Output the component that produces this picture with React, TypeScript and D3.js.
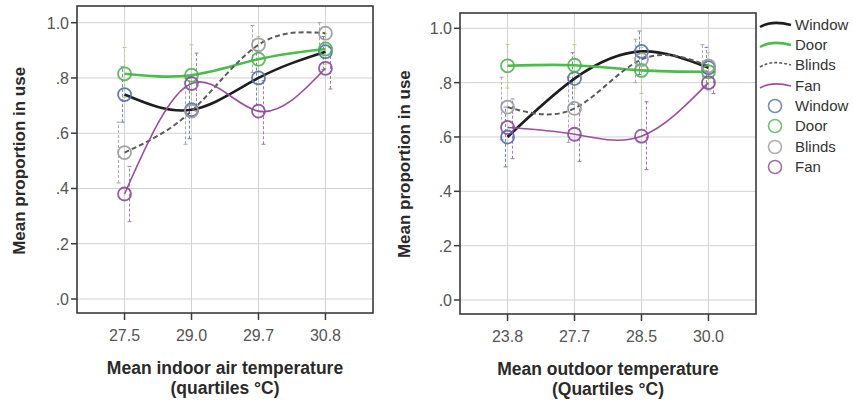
import * as d3 from "d3";

// quartile labels
const indoorTicks = ["27.5", "29.0", "29.7", "30.8"];
const outdoorTicks = ["23.8", "27.7", "28.5", "30.0"];
const yTicks = [0, 0.2, 0.4, 0.6, 0.8, 1.0];

// indoor panel means
const inWindow = [0.74, 0.685, 0.8, 0.895];
const inDoor = [0.815, 0.81, 0.868, 0.905];
const inBlinds = [0.53, 0.68, 0.92, 0.962];
const inFan = [0.38, 0.78, 0.68, 0.835];
// indoor error bars
const inWindowLo = [0.64, 0.58, 0.7, 0.83];
const inWindowHi = [0.84, 0.8, 0.9, 0.95];
const inDoorLo = [0.73, 0.7, 0.78, 0.85];
const inDoorHi = [0.91, 0.92, 0.95, 0.96];
const inBlindsLo = [0.42, 0.56, 0.82, 0.9];
const inBlindsHi = [0.64, 0.8, 0.99, 1.0];
const inFanLo = [0.28, 0.68, 0.56, 0.76];
const inFanHi = [0.48, 0.89, 0.79, 0.91];

// outdoor panel means
const outWindow = [0.6, 0.815, 0.915, 0.855];
const outDoor = [0.862, 0.864, 0.845, 0.84];
const outBlinds = [0.71, 0.705, 0.885, 0.862];
const outFan = [0.635, 0.61, 0.603, 0.8];
// outdoor error bars
const outWindowLo = [0.49, 0.72, 0.83, 0.78];
const outWindowHi = [0.71, 0.91, 0.99, 0.93];
const outDoorLo = [0.78, 0.78, 0.76, 0.77];
const outDoorHi = [0.94, 0.94, 0.93, 0.91];
const outBlindsLo = [0.59, 0.58, 0.8, 0.78];
const outBlindsHi = [0.82, 0.82, 0.96, 0.94];
const outFanLo = [0.52, 0.51, 0.48, 0.76];
const outFanHi = [0.74, 0.72, 0.73, 0.86];

const seriesNames = ["Window", "Door", "Blinds", "Fan"];

const styles: any = {
  Window: { line: "#1e1e1e", lw: 2.6, dash: null, dot: "#5470a6", err: "#6f86b4", off: -2 },
  Door: { line: "#4cbc4c", lw: 2.6, dash: null, dot: "#4fb34f", err: "#b9c98a", off: 0 },
  Blinds: { line: "#5a5a5a", lw: 2, dash: "5,3", dot: "#9a9a9a", err: "#a8a8a8", off: -6 },
  Fan: { line: "#9a4f9e", lw: 1.6, dash: null, dot: "#8d4a99", err: "#9d7aa6", off: 5 },
};

const font = "'Liberation Sans', Arial, sans-serif";

function Panel({ left, right, top, bottom, y1, y0, ticks, means, los, his, title1, title2, yTitleX }: any) {
  const x = d3.scalePoint<string>().domain(ticks).range([left, right]).padding(0.71);
  const y = d3.scaleLinear().domain([0, 1]).range([y0, y1]);
  const line = d3
    .line<number>()
    .x((_, i) => x(ticks[i]) as number)
    .y((d) => y(d))
    .curve(d3.curveNatural);
  const cx = (left + right) / 2;
  const cy = (y(0) + y(1)) / 2;
  return (
    <g>
      {yTicks.map((t) => (
        <line key={"gy" + t} x1={left} x2={right} y1={y(t)} y2={y(t)} stroke="#d2d2d2" strokeWidth={1} />
      ))}
      {ticks.map((t: string) => (
        <line key={"gx" + t} x1={x(t)} x2={x(t)} y1={top} y2={bottom} stroke="#d2d2d2" strokeWidth={1} />
      ))}
      <rect x={left} y={top} width={right - left} height={bottom - top} fill="none" stroke="#3a3a3a" strokeWidth={1.6} />
      {yTicks.map((t) => (
        <g key={"yt" + t}>
          <line x1={left - 6} x2={left} y1={y(t)} y2={y(t)} stroke="#3a3a3a" strokeWidth={1.5} />
          <text x={left - 8} y={y(t) + 6} textAnchor="end" fontSize={16} fill="#555" fontFamily={font}>
            {t === 0 ? ".0" : t === 1 ? "1.0" : d3.format(".1f")(t).replace(/^0/, "")}
          </text>
        </g>
      ))}
      {ticks.map((t: string) => (
        <g key={"xt" + t}>
          <line x1={x(t)} x2={x(t)} y1={bottom} y2={bottom + 7} stroke="#3a3a3a" strokeWidth={1.5} />
          <text x={x(t)} y={bottom + 28} textAnchor="middle" fontSize={16} fill="#555" fontFamily={font}>
            {t}
          </text>
        </g>
      ))}
      {/* error bars */}
      {seriesNames.map((s, si) =>
        means[si].map((_: number, i: number) => {
          const px = (x(ticks[i]) as number) + styles[s].off;
          return (
            <g key={"e" + s + i} stroke={styles[s].err} strokeWidth={1}>
              <line x1={px} x2={px} y1={y(los[si][i])} y2={y(his[si][i])} strokeDasharray="3,2" />
              <line x1={px - 2} x2={px + 2} y1={y(los[si][i])} y2={y(los[si][i])} />
              <line x1={px - 2} x2={px + 2} y1={y(his[si][i])} y2={y(his[si][i])} />
            </g>
          );
        })
      )}
      {seriesNames.map((s, si) => (
        <path
          key={"l" + s}
          d={line(means[si]) as string}
          fill="none"
          stroke={styles[s].line}
          strokeWidth={styles[s].lw}
          strokeDasharray={styles[s].dash || undefined}
        />
      ))}
      {seriesNames.map((s, si) =>
        means[si].map((v: number, i: number) => (
          <circle key={"c" + s + i} cx={x(ticks[i])} cy={y(v)} r={6.5} fill="none" stroke={styles[s].dot} strokeWidth={1.8} opacity={0.9} />
        ))
      )}
      <text x={cx} y={bottom + 61} textAnchor="middle" fontSize={17.5} fontWeight="bold" fill="#2a2a2a" fontFamily={font}>
        {title1}
      </text>
      <text x={cx} y={bottom + 81} textAnchor="middle" fontSize={17.5} fontWeight="bold" fill="#2a2a2a" fontFamily={font}>
        {title2}
      </text>
      <text
        transform={`translate(${yTitleX},${cy}) rotate(-90)`}
        textAnchor="middle"
        fontSize={17}
        fontWeight="bold"
        fill="#2a2a2a"
        fontFamily={font}
      >
        Mean proportion in use
      </text>
    </g>
  );
}

function Legend() {
  const lx = 760;
  const rows = [25, 45, 65, 86];
  const crow = [106, 126, 147, 167];
  return (
    <g fontFamily={font} fontSize={15} fill="#333">
      {seriesNames.map((s, i) => (
        <g key={"ll" + s}>
          <path
            d={`M${lx},${rows[i] + 2} C${lx + 10},${rows[i] - 4} ${lx + 20},${rows[i] - 3} ${lx + 31},${rows[i]}`}
            fill="none"
            stroke={styles[s].line}
            strokeWidth={s === "Fan" ? 1.6 : s === "Blinds" ? 1.6 : 2.6}
            strokeDasharray={s === "Blinds" ? "3,2" : undefined}
          />
          <text x={795} y={rows[i] + 5}>{s}</text>
        </g>
      ))}
      {seriesNames.map((s, i) => (
        <g key={"lc" + s}>
          <circle cx={775} cy={crow[i]} r={6.5} fill="none" stroke={styles[s].dot} strokeWidth={1.6} opacity={0.8} />
          <text x={795} y={crow[i] + 5}>{s}</text>
        </g>
      ))}
    </g>
  );
}

export default function App() {
  return (
    <svg width={853} height={401} style={{ position: "absolute", left: 0, top: 0, background: "#fff" }}>
      <rect width={853} height={401} fill="#fff" />
      <Panel
        left={77}
        right={373}
        top={6}
        bottom={313}
        y1={22.7}
        y0={299}
        ticks={indoorTicks}
        means={[inWindow, inDoor, inBlinds, inFan]}
        los={[inWindowLo, inDoorLo, inBlindsLo, inFanLo]}
        his={[inWindowHi, inDoorHi, inBlindsHi, inFanHi]}
        title1="Mean indoor air temperature"
        title2="(quartiles °C)"
        yTitleX={25}
      />
      <Panel
        left={460}
        right={756}
        top={13}
        bottom={314}
        y1={28.3}
        y0={300}
        ticks={outdoorTicks}
        means={[outWindow, outDoor, outBlinds, outFan]}
        los={[outWindowLo, outDoorLo, outBlindsLo, outFanLo]}
        his={[outWindowHi, outDoorHi, outBlindsHi, outFanHi]}
        title1="Mean outdoor temperature"
        title2="(Quartiles °C)"
        yTitleX={410}
      />
      <Legend />
    </svg>
  );
}
